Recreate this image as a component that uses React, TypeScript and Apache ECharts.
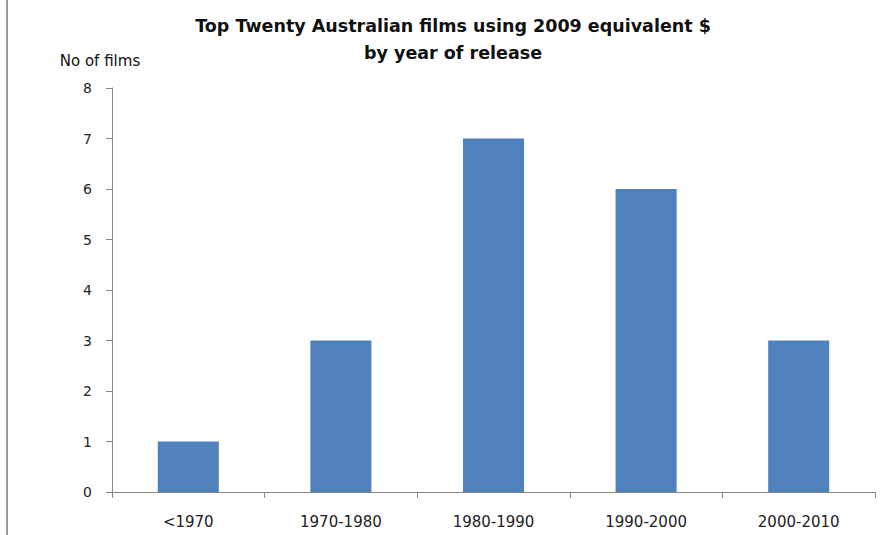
import React, { useEffect, useRef } from "react";
import * as echarts from "echarts";

const categories = ["<1970", "1970-1980", "1980-1990", "1990-2000", "2000-2010"];
const films = [1, 3, 7, 6, 3];
const titleLines = ["Top Twenty Australian films using 2009 equivalent $", "by year of release"];
const yAxisName = "No of films";

export default function App() {
  const ref = useRef<HTMLDivElement>(null);
  useEffect(() => {
    if (!ref.current) return;
    const chart = echarts.init(ref.current, null, { renderer: "svg" });
    chart.setOption({
      animation: false,
      backgroundColor: "#ffffff",
      title: {
        text: titleLines.join("\n"),
        left: 448,
        top: 7,
        textAlign: "center",
        textStyle: {
          fontFamily: "DejaVu Sans",
          fontWeight: "bold",
          fontSize: 17.5,
          lineHeight: 27,
          color: "#111111",
        },
      },
      graphic: [
        {
          type: "line",
          shape: { x1: 7, y1: 0, x2: 7, y2: 535 },
          style: { stroke: "#9a9a9a", lineWidth: 2 },
        },
      ],
      grid: { left: 112, right: 11, top: 88, bottom: 43 },
      xAxis: {
        type: "category",
        data: categories,
        axisLine: { lineStyle: { color: "#868686", width: 1 } },
        axisTick: { show: true, length: 6, alignWithLabel: false, lineStyle: { color: "#868686" } },
        axisLabel: { color: "#222222", fontFamily: "DejaVu Sans", fontSize: 15, margin: 22 },
      },
      yAxis: {
        type: "value",
        min: 0,
        max: 8,
        interval: 1,
        name: yAxisName,
        nameLocation: "end",
        nameGap: 20,
        nameTextStyle: { color: "#111111", fontFamily: "DejaVu Sans", fontSize: 15, align: "center", padding: [0, 24, 0, 0] },
        axisLine: { show: true, lineStyle: { color: "#868686", width: 1 } },
        axisTick: { show: true, length: 6, lineStyle: { color: "#868686" } },
        axisLabel: { color: "#222222", fontFamily: "DejaVu Sans", fontSize: 14, margin: 20 },
        splitLine: { show: false },
      },
      series: [
        {
          type: "bar",
          data: films,
          barWidth: "40%",
          itemStyle: { color: "#4f81bd" },
        },
      ],
    });
    return () => chart.dispose();
  }, []);
  return (
    <div
      ref={ref}
      style={{ position: "fixed", left: 0, top: 0, width: 886, height: 535 }}
    />
  );
}
